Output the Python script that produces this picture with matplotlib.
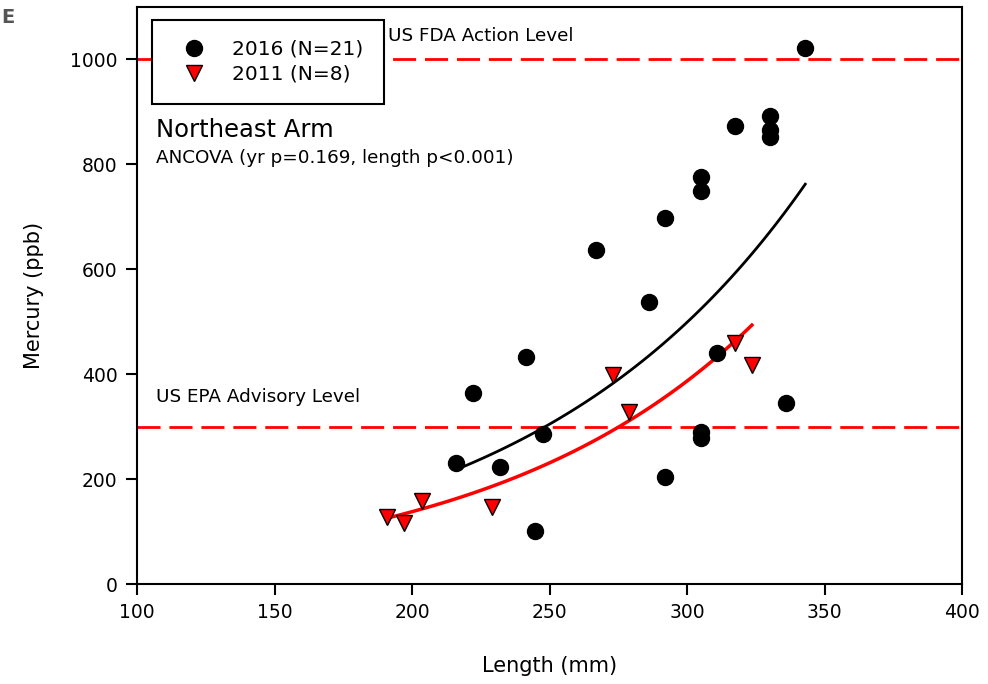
import numpy as np
import matplotlib
matplotlib.use('Agg')
import matplotlib.pyplot as plt
from matplotlib.lines import Line2D

# 2016 fish (N=21)
len_2016 = [216, 222, 232, 241.5, 244.7, 247.6, 267, 286, 292, 292, 305, 305,
            305, 305, 311, 317.5, 330, 330, 330, 336, 343]
hg_2016 = [230, 364, 224, 433, 101, 286, 637, 538, 698, 204, 775, 750,
           290, 278, 441, 874, 893, 866, 853, 345, 1022]

# 2011 fish (N=8)
len_2011 = [190.9, 197, 203.6, 229, 273, 279, 317.5, 323.6]
hg_2011 = [128, 116, 158, 147, 399, 328, 460, 418]

# exponential fits: y = a * exp(b * x)
fit_2016 = (25.9, 0.00986)
fit_2011 = (17.5, 0.01032)

fda_level = 1000
epa_level = 300

xticks = [100, 150, 200, 250, 300, 350, 400]
yticks = [0, 200, 400, 600, 800, 1000]


def fitline(ax, xs, fit, color, lw):
    x = np.linspace(min(xs), max(xs), 100)
    ax.plot(x, fit[0] * np.exp(fit[1] * x), color=color, lw=lw, zorder=3)


fig = plt.figure(figsize=(9.88, 6.84), dpi=100)
ax = fig.add_axes([137/988, 1 - 584/684, 825/988, 577/684])

dash = (0, (8.3, 3.2))
ax.axhline(fda_level, color='red', lw=2, linestyle=dash, zorder=1)
ax.axhline(epa_level, color='red', lw=2, linestyle=dash, zorder=1)

fitline(ax, len_2016, fit_2016, 'black', 2)
fitline(ax, len_2011, fit_2011, 'red', 2.5)

ax.plot(len_2016, hg_2016, 'o', color='black', ms=11.5, zorder=4)
ax.plot(len_2011, hg_2011, 'v', mfc='red', mec='black', mew=1, ms=11, zorder=4)

ax.set_xlim(100, 400)
ax.set_ylim(0, 1100)
ax.set_xticks(xticks)
ax.set_yticks(yticks)
ax.tick_params(axis='both', direction='out', length=8, width=1.5,
               labelsize=13.5, pad=6)
for s in ax.spines.values():
    s.set_linewidth(1.5)

ax.set_xlabel('Length (mm)', fontsize=15, labelpad=24)
ax.set_ylabel('Mercury (ppb)', fontsize=15, labelpad=19)

ax.text(191.3, 1044, 'US FDA Action Level', fontsize=13.2, va='center')
ax.text(106.9, 357, 'US EPA Advisory Level', fontsize=13.2, va='center')

ax.text(0.023, 0.787, 'Northeast Arm', transform=ax.transAxes,
        fontsize=17.5, va='center')
ax.text(0.023, 0.738, 'ANCOVA (yr p=0.169, length p<0.001)',
        transform=ax.transAxes, fontsize=13.2, va='center')

handles = [
    Line2D([], [], ls='none', marker='o', color='black', ms=11.5),
    Line2D([], [], ls='none', marker='v', mfc='red', mec='black', mew=1, ms=11),
]
leg = ax.legend(handles, ['2016 (N=21)', '2011 (N=8)'], loc='upper left',
                bbox_to_anchor=(0.018, 0.978), fontsize=14.5, frameon=True,
                fancybox=False, edgecolor='black', framealpha=1,
                borderpad=1.0, handletextpad=0.8, labelspacing=0.3,
                handlelength=2.2, borderaxespad=0)
leg.get_frame().set_linewidth(1.5)

fig.text(0.001, 0.975, 'E', fontsize=14, fontweight='bold', color='#555555',
         va='center')

fig.savefig('out.png', dpi=100)
